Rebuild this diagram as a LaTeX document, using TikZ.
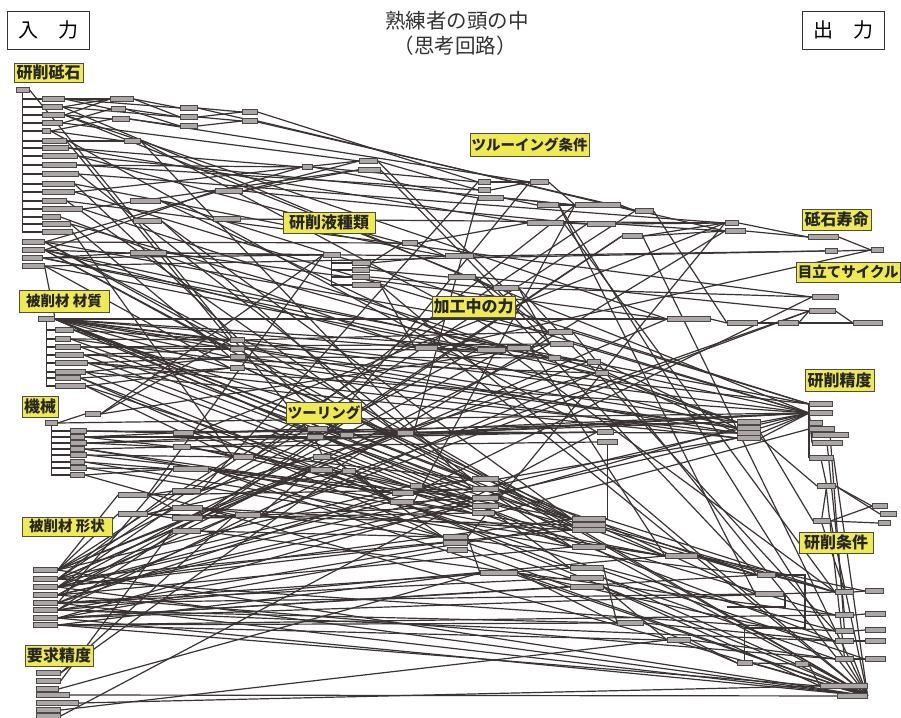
\documentclass[tikz,border=0pt]{standalone}
\usepackage{fontspec}
\newfontfamily\jp{Noto Sans CJK JP}
\pgfdeclarelayer{paper}
\pgfdeclarelayer{wires}
\pgfsetlayers{paper,wires,main}
\definecolor{lncol}{HTML}{3A3333}
\definecolor{boxfill}{HTML}{ABA7A7}
\definecolor{boxline}{HTML}{4D4747}
\definecolor{labfill}{HTML}{F0EA52}
\tikzset{
  ln/.style={draw=lncol, line width=1.2pt},
  gbox/.style={rectangle, draw=boxline, fill=boxfill, line width=0.6pt,
    minimum height=4.5pt, inner sep=0pt, anchor=west},
  lab/.style={rectangle, draw=black!70, fill=labfill, line width=0.9pt,
    font=\jp\bfseries\fontsize{16}{17}\selectfont, inner xsep=1.5pt, inner ysep=0pt,
    minimum height=21pt, text=black!85},
  labm/.style={lab, font=\jp\bfseries\fontsize{14.5}{15.5}\selectfont},
  iobox/.style={rectangle, draw=black!80, line width=0.9pt,
    font=\jp\fontsize{20}{22}\selectfont, minimum width=82pt, minimum height=38pt},
  ttl/.style={font=\jp\fontsize{20.5}{22}\selectfont, text=black!80, inner sep=0pt}
}
% small grey element box: name, x, y (left end), width
\newcommand\gb[4]{\node[gbox, minimum width=#4pt] (#1) at (#2,#3) {};}

\begin{document}
\begin{tikzpicture}[x=1pt,y=-1pt]
\useasboundingbox (0,0) rectangle (901,717);
\begin{pgfonlayer}{paper}
  \fill[white] (0,0) rectangle (901,717);
\end{pgfonlayer}

% ---- grinding wheel group
\gb{a0}{16}{90}{13}
\gb{a1}{42}{99}{22}   \gb{a2}{42}{107}{20}  \gb{a3}{42}{115}{22}
\gb{a4}{42}{123}{20}  \gb{a5}{42}{131}{8}   \gb{a6}{42}{141}{24}
\gb{a7}{42}{148}{26}  \gb{a8}{42}{156}{35}  \gb{a9}{42}{165}{34}
\gb{a10}{42}{174}{36} \gb{a11}{42}{184}{32} \gb{a12}{42}{192}{32}
\gb{a13}{42}{201}{24} \gb{a14}{42}{209}{40} \gb{a15}{42}{217}{18}
\gb{a16}{42}{224}{28} \gb{a17}{42}{232}{30}
\gb{a18}{110}{99}{23} \gb{a19}{111}{109}{14} \gb{a20}{112}{119}{17}
\gb{a21}{180}{108}{17} \gb{a22}{180}{117}{17} \gb{a23}{180}{126}{17}
\gb{a24}{242}{112}{15} \gb{a25}{242}{121}{15}
\gb{a26}{124}{141}{16} \gb{a27}{215}{191}{27} \gb{a28}{130}{201}{30}
\gb{a29}{213}{219}{27} \gb{a30}{133}{221}{28}
% ---- lower part of the wheel group
\gb{b1}{22}{242}{22} \gb{b2}{22}{250}{22} \gb{b3}{22}{258}{20} \gb{b4}{22}{266}{22}
\gb{b5}{130}{253}{36}
\gb{m0}{302}{167}{10} \gb{m1}{359}{161}{18} \gb{m2}{358}{170}{22}
% ---- truing conditions
\gb{q1}{478}{182}{12} \gb{q2}{478}{190}{12} \gb{q3}{478}{198}{25}
\gb{q4}{530}{182}{18} \gb{q5}{537}{205}{21} \gb{q6}{575}{205}{45}
\gb{q7}{527}{223}{36} \gb{q8}{587}{224}{28}
\gb{s2}{635}{211}{18} \gb{s4}{725}{223}{13} \gb{s5}{725}{231}{20}
\gb{s6}{808}{237}{30} \gb{s7}{622}{236}{20}
% ---- coolant
\gb{l0}{323}{255}{17}
\gb{l1}{352}{263}{18} \gb{l2}{352}{270}{17} \gb{l3}{352}{277}{17} \gb{l4}{352}{285}{28}
\gb{l5}{402}{243}{15} \gb{l6}{445}{256}{28} \gb{l7}{448}{277}{27} \gb{l8}{493}{288}{25}
% ---- wheel life / dressing cycle
\gb{r1}{825}{251}{12} \gb{r2}{871}{250}{12} \gb{r3}{812}{297}{26} \gb{r4}{809}{311}{26}
\gb{r5}{667}{319}{43} \gb{r6}{727}{323}{30} \gb{r7}{778}{323}{20} \gb{r8}{853}{323}{29}
% ---- machining force
\gb{n1}{415}{348}{22} \gb{n2}{477}{350}{28} \gb{p6}{507}{348}{23}
\gb{p1}{548}{332}{24} \gb{p2}{550}{344}{23} \gb{p3}{548}{358}{12}
\gb{p4}{587}{362}{13} \gb{p5}{595}{373}{13} \gb{p7}{597}{432}{16} \gb{p8}{597}{442}{20}
% ---- work material
\gb{d0}{38}{319}{16}
\gb{d1}{55}{330}{18} \gb{d2}{55}{339}{15} \gb{d3}{55}{347}{25} \gb{d4}{55}{355}{28}
\gb{d5}{55}{363}{32} \gb{d6}{55}{372}{30} \gb{d7}{55}{378}{25} \gb{d8}{55}{386}{30}
\gb{d9}{230}{340}{14} \gb{d10}{230}{349}{14} \gb{d11}{230}{357}{15} \gb{d12}{230}{368}{14}
% ---- machine
\gb{e0}{45}{423}{12}
\gb{e1}{70}{431}{16} \gb{e2}{70}{437}{14} \gb{e3}{70}{443}{16} \gb{e4}{70}{449}{14}
\gb{e5}{70}{455}{16} \gb{e6}{70}{462}{14} \gb{e7}{70}{468}{16} \gb{e8}{70}{475}{14}
\gb{c9}{85}{414}{15} \gb{c10}{173}{433}{20} \gb{c11}{173}{447}{17}
\gb{c12}{233}{457}{20} \gb{c13}{173}{469}{35}
\gb{f1}{118}{495}{29} \gb{f2}{172}{491}{28} \gb{f3}{118}{514}{29} \gb{f4}{172}{508}{30}
\gb{f5}{172}{518}{30} \gb{f6}{235}{515}{25} \gb{f7}{172}{531}{28}
% ---- tooling
\gb{t1}{307}{429}{20} \gb{t2}{307}{437}{16} \gb{t3}{340}{435}{13} \gb{t4}{397}{433}{16}
\gb{t5}{313}{457}{17} \gb{t6}{310}{470}{22} \gb{t7}{342}{471}{13} \gb{t8}{410}{486}{12}
\gb{t9}{392}{493}{21} \gb{t10}{390}{502}{23}
\gb{u1}{472}{479}{26} \gb{u2}{472}{489}{26} \gb{u3}{472}{498}{26} \gb{u4}{472}{506}{26}
\gb{u5}{472}{513}{22} \gb{u6}{443}{537}{24} \gb{u7}{443}{543}{24} \gb{u8}{447}{550}{20}
\gb{u9}{480}{573}{37}
\gb{v1}{572}{519}{33} \gb{v1b}{572}{525}{33} \gb{v2}{572}{530}{33} \gb{v3}{572}{547}{33}
\gb{v4}{570}{568}{33} \gb{v5}{570}{578}{33} \gb{v6}{570}{587}{33}
% ---- grinding accuracy
\gb{j1}{737}{422}{23} \gb{j2}{737}{428}{23} \gb{j3}{737}{433}{23} \gb{j4}{737}{438}{23}
\gb{k1}{809}{404}{23} \gb{k2}{809}{413}{23} \gb{k3}{809}{423}{13} \gb{k4}{809}{429}{25}
\gb{k5}{812}{435}{36} \gb{k6}{812}{443}{30} \gb{k7}{809}{458}{24}
\gb{x1}{817}{486}{18} \gb{x2}{813}{521}{17} \gb{x3}{872}{506}{15} \gb{x4}{880}{514}{16}
\gb{x5}{878}{523}{12}
% ---- grinding conditions
\gb{w1}{665}{556}{32} \gb{w2}{757}{575}{18} \gb{w3}{755}{594}{28} \gb{w4}{617}{623}{26}
\gb{w5}{667}{640}{23} \gb{w6}{737}{663}{15} \gb{w7}{795}{664}{13}
\gb{y1}{835}{592}{18} \gb{y2}{865}{591}{18} \gb{y3}{835}{615}{18} \gb{y4}{865}{614}{20}
\gb{y5}{835}{631}{18} \gb{y6}{865}{630}{20} \gb{y7}{835}{641}{18} \gb{y8}{865}{641}{20}
\gb{y9}{835}{659}{18} \gb{y10}{865}{659}{20}
\gb{z1}{820}{686}{47} \gb{z2}{837}{696}{30}
% ---- work shape
\gb{g1}{33}{570}{24} \gb{g2}{33}{579}{24} \gb{g3}{33}{587}{24} \gb{g4}{33}{595}{24}
\gb{g5}{33}{603}{24} \gb{g6}{33}{610}{24} \gb{g7}{33}{618}{24} \gb{g8}{33}{625}{24}
% ---- required accuracy
\gb{h1}{36}{673}{24} \gb{h2}{36}{681}{24} \gb{h3}{36}{689}{22} \gb{h4}{36}{695}{33}
\gb{h5}{36}{703}{42} \gb{h6}{36}{710}{24} \gb{h7}{36}{716}{24}

\coordinate (kA) at (805,628);
\coordinate (kB) at (785,607);
\coordinate (kC) at (727,607);

\begin{pgfonlayer}{wires}
  % tree trunks
  \foreach \i in {1,...,17} \draw[ln] (a0.south) |- (a\i.west);
  \foreach \i in {1,...,8} \draw[ln] (d0.south) |- (d\i.west);
  \foreach \i in {1,...,8} \draw[ln] (e0.south) |- (e\i.west);
  \foreach \i in {1,...,4} \draw[ln] (l0.south) |- (l\i.west);
  \foreach \t in {k1,k3,k4,k5,k6,k7} \draw[ln] (k2.west) -- (\t.west);
  \draw[ln] (b4.east) -- (d0.north east);
  \draw[ln] (t2.south) -- (t5.north);
  \draw[ln] (p8) |- (v1.east);
  \draw[ln] (k7.south) -- (x1.north);
  \draw[ln] (x1.south) -- (x2.north);
  \draw[ln] (x1.south) -- (y9.north);
  \draw[ln] (k6.south) -- (y3.north);
  \draw[ln] (k5.south) -- (y5.north);
  \draw[ln] (x2.south) -- (y1.north);
  \draw[ln] (w2.east) -| (kA) -| (w6.north);
  \draw[ln] (w3.east) -| (kB) -- (kC);
  % links between elements
  \foreach \s/\t in {
    a1/a18, a2/a18, a3/a18, a1/a19, a4/a19, a3/a20, a5/a20, a1/a21, a2/a22,
    a18/a21, a18/a22, a19/a22, a20/a23, a19/a23, a21/a24, a22/a24, a23/a25,
    a22/a25, a5/a26, a6/a26,
    a4/m1, a12/m1, a27/m1, a27/m2, a14/m2, a9/m0, a7/m0,
    m0/q3, m0/q1, m1/p1, m2/p2, m1/q2,
    a5/p7, a2/l8, a8/q6, a11/l6, a7/q7, a9/q2, a10/s4, a13/r3, a15/n1, a6/d9,
    a0/t1, a14/j1, a3/r5, a10/u1, a13/t4, a24/q1, a25/s2, a26/p3, a28/n2,
    a30/t4, a29/s4, a27/q8, a16/d11, a17/c12, a8/l5, a11/t3, a16/p6, a20/q4,
    a21/s5, a26/u2, a28/k1, a30/v1,
    b1/m0, b2/a27, b4/r1, b3/l0, b1/l5, b2/b5, b3/b5, b1/p1, b1/d9, b2/d10,
    b4/d12, b2/j2, b3/k1, b1/u1, b5/l0, b5/l6, b5/r5, b3/p5, b4/n2,
    l1/l6, l2/l7, l3/l8, l4/n1, l5/l6, l6/r1, l7/p1, l8/p2, l5/q7, l1/l5,
    l8/r3, l7/r4, l7/w2, l8/y5,
    q1/q4, q2/q4, q3/q5, q4/q6, q5/q6, q3/q6, q6/s2, q8/s4, q8/s5, s4/s6,
    s5/s6, q7/q8, s7/s5, s7/s4, s2/r6, s6/r2, q5/w3, q7/y1,
    r5/r6, r6/r7, r7/r4, r7/r8, r4/r8, r1/r2, n1/r2,
    p1/k1, p3/j1, p4/j2, p5/j3, n2/p4, n2/y1, n1/n2, p6/p1, p6/w1, d9/p1,
    p3/p4, p4/p5,
    d1/d9, d2/d9, d3/d10, d4/d10, d5/d11, d6/d11, d7/d12, d8/d12, d5/j3,
    d8/c12, d9/k1, d10/n2, d11/j2, d12/j4, d11/p3, d12/v1, d1/t4, d0/d9,
    d0/d10, d0/d11, d0/d12, d0/r5, d0/j1, d0/p3, d0/u1, d0/p6, d0/t3, d0/v1,
    d0/u2, d0/v3, d2/w1, d3/p2, d4/y7, d7/u6, d2/j2, d4/p5,
    d1/u3, d3/v2, d5/u4, d7/v4, d8/u5, d6/j4, d10/j3, d12/w1,
    e0/c9, e1/c10, e2/c10, e3/c11, e4/c11, e5/c12, e6/c13, e7/c13, e8/c13,
    c10/t1, c11/c12, c12/t6, c13/t9, c10/j1, c13/u6, c12/v1, c12/q6, c9/d9,
    c9/l0, e1/j3, e3/p7, e4/v2, e5/u3, e6/w1, c10/y10, c11/p8, e2/t2,
    e2/u1, e4/t9, e7/v3, c13/w1, c9/p2, c10/s4, c12/s2, c11/u4,
    f1/f2, f3/f4, f3/f5, f1/f4, f4/f6, f5/f6, f7/f6, f1/l0, f2/q1, f6/t6,
    f6/u4, f2/t5, f7/u6, f4/v2, f5/u5, f5/s7, f2/t1, f3/t7,
    f1/u2, f3/v1b, f4/w2, f6/r4, f7/y3, f2/p5,
    g1/f1, g1/f3, g2/f2, g3/f4, g4/f7, g5/c13, g1/t4, g2/u1, g3/v1, g4/v3,
    g5/v5, g6/w1, g7/y1, g8/y3, g8/z1, g2/y5, g4/y9, g6/w4, g8/w5, g1/p4,
    g2/r5, g4/j4, g5/t9, g6/t7, g7/u8, g8/u9, g2/q8, g4/p2, g6/s7, g3/u7,
    g5/v4, g7/v6, g1/t8, g3/t10, g5/w3, g7/w2, g2/v2, g6/y7,
    g1/n2, g3/p6, g5/p5, g7/j2, g2/t6, g4/u4, g6/v1b, g8/w4, g1/c12, g3/f6,
    h1/f6, h2/f7, h5/z1, h7/p7, h3/u9, h6/w5, h1/t7,
    t1/t4, t2/t4, t1/t3, t3/t4, t6/t8, t7/t8, t6/t9, t7/t10, t5/t10, t4/j1,
    t3/p7, t8/u1, t9/u2, t10/u3, t9/u4, t10/u5, t8/u3, t1/q4, t4/q3, t6/s5,
    t7/r4, t5/u6, t10/q6, t9/r3, t5/v3, t2/u2,
    u1/v1, u2/v2, u3/v3, u4/v1b, u5/v4, u6/u9, u7/v5, u8/v6, u9/w4, u9/y7,
    u1/j4, u2/w2, u3/y1, u6/s4, u5/k4,
    v1/y1, v2/w2, v3/y3, v4/y5, v6/z1, v1b/w3, v3/w1, v5/y9, v4/w4, v6/w5,
    w1/w2, w1/y1, w4/w6, w5/w6, w6/w7, w7/z1, w4/y7, w5/y9, w1/y2,
    y1/y2, y3/y4, y5/y6, y7/y8, y9/y10, x1/x4, x2/x3, x2/x5, x1/x3, j3/x2,
    j4/x1}
    \draw[ln] (\s.east) -- (\t.west);
  % lines gathering at the accuracy hub
  \foreach \s in {a12, d0, e0, j1, j2, j3, j4, p2, t4, b2, c11, d5, e3, g3, a3}
    \draw[ln] (\s.east) -- (k2.west);
  % lines gathering at the bottom-right hub
  \foreach \s in {g1, g3, g5, g7, h4, l4, p1, n1, d9, t4, v5, u9, d6, b2, e8,
    c13, w6, w7, y9, k7, x2, s7, q5}
    \draw[ln] (\s.east) -- (z2.east);
\end{pgfonlayer}

% ---- headings
\node[iobox] (inbox) at (48,30) {入　力};
\node[iobox] (outbox) at (843,30) {出　力};
\node[ttl] (title1) at (457,21) {熟練者の頭の中};
\node[ttl] (title2) at (455,46) {（思考回路）};

% ---- category labels
\node[lab, minimum width=69pt, minimum height=19pt] (Lwheel) at (48.5,72.5) {研削砥石};
\node[labm, minimum width=115pt, minimum height=23pt] (Ltruing) at (529.5,144.5) {ツルーイング条件};
\node[lab, minimum width=92pt] (Lcool) at (329,222.5) {研削液種類};
\node[lab, minimum width=69pt] (Llife) at (836.5,219.5) {砥石寿命};
\node[labm, anchor=east, minimum height=20pt] (Ldress) at (900.5,272) {目立てサイクル};
\node[lab, minimum width=81pt] (Lforce) at (473.5,306.5) {加工中の力};
\node[labm, minimum width=90pt, minimum height=22pt] (Lmat) at (64,301) {被削材 材質};
\node[lab, minimum width=69pt, minimum height=22pt] (Lacc) at (839.5,380) {研削精度};
\node[lab, minimum width=36pt] (Lmach) at (40,406.5) {機械};
\node[labm, minimum width=64pt] (Ltool) at (324,412.5) {ツーリング};
\node[labm, minimum width=90pt, minimum height=19pt] (Lshape) at (67,526.5) {被削材 形状};
\node[lab, minimum width=74pt] (Lcond) at (836,542.5) {研削条件};
\node[lab, minimum width=68pt] (Lreq) at (59,655.5) {要求精度};
\end{tikzpicture}
\end{document}
